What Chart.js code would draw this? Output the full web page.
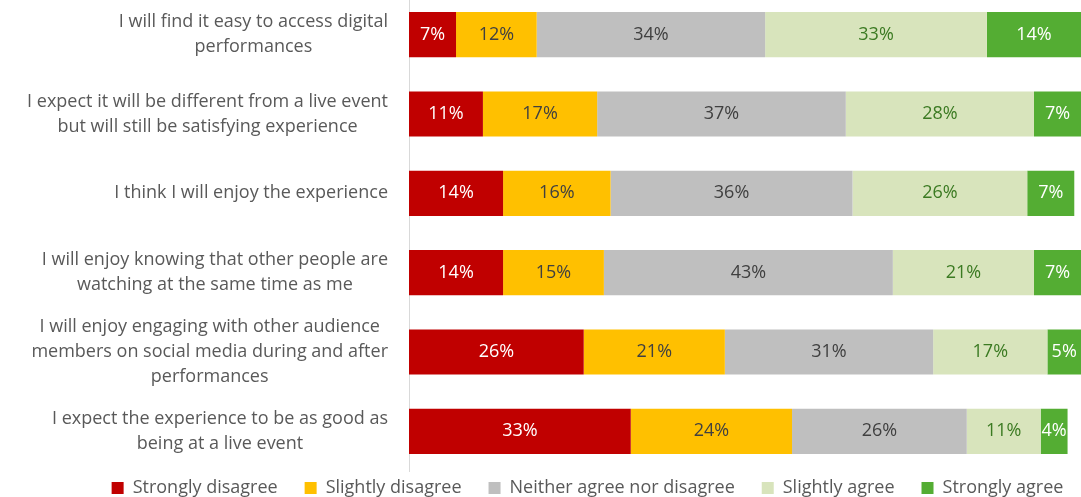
<!DOCTYPE html>
<html>
<head>
<meta charset="utf-8">
<script src="https://cdn.jsdelivr.net/npm/chart.js@4.4.1/dist/chart.umd.min.js"></script>
<style>
  html, body { margin: 0; padding: 0; background: #ffffff; overflow: hidden; }
  #wrap { width: 1081px; height: 497px; overflow: hidden; }
  /* plot area starts a few px above the visible frame */
  #surveyChart { display: block; margin-top: -5px; }
</style>
</head>
<body>
<div id="wrap"><canvas id="surveyChart" width="1081" height="502"></canvas></div>
<script>
// Survey statements (wrapped the same way as the axis labels)
const statements = [
    ['I will find it easy to access digital', 'performances'],
    ['I expect it will be different from a live event', 'but will still be satisfying experience'],
    ['I think I will enjoy the experience'],
    ['I will enjoy knowing that other people are', 'watching at the same time as me'],
    ['I will enjoy engaging with other audience', 'members on social media during and after', 'performances'],
    ['I expect the experience to be as good as', 'being at a live event']
];

const responseNames = ['Strongly disagree', 'Slightly disagree', 'Neither agree nor disagree', 'Slightly agree', 'Strongly agree'];

// Percent of respondents per answer
const stronglyDisagree = [7, 11, 14, 14, 26, 33];
const slightlyDisagree = [12, 17, 16, 15, 21, 24];
const neitherAgreeNor = [34, 37, 36, 43, 31, 26];
const slightlyAgree = [33, 28, 26, 21, 17, 11];
const stronglyAgree = [14, 7, 7, 7, 5, 4];

const seriesValues = [stronglyDisagree, slightlyDisagree, neitherAgreeNor, slightlyAgree, stronglyAgree];
const fillColors = ['#C00000', '#FFC000', '#BFBFBF', '#D8E4BC', '#54AD33'];
const valueTextColors = ['#FFFFFF', '#404040', '#404040', '#3B7A22', '#FFFFFF'];

const FONT = '"Open Sans", "Noto Sans", sans-serif';
const FONT_SIZE = 18;
const TEXT_GREY = '#595959';

// statement labels: each block is centred internally and right-aligned to the axis
const statementLabels = {
    id: 'statementLabels',
    afterDraw(chart) {
        const ctx = chart.ctx;
        const yScale = chart.scales.y;
        const right = chart.chartArea.left - 21;
        const lineH = 25;
        ctx.save();
        ctx.font = FONT_SIZE + 'px ' + FONT;
        ctx.fillStyle = TEXT_GREY;
        ctx.textAlign = 'center';
        ctx.textBaseline = 'middle';
        statements.forEach((lines, i) => {
            const y = yScale.getPixelForValue(i);
            const blockW = Math.max(...lines.map(l => ctx.measureText(l).width));
            const cx = right - blockW / 2;
            const y0 = y - (lines.length - 1) * lineH / 2;
            lines.forEach((line, k) => ctx.fillText(line, cx, y0 + k * lineH));
        });
        ctx.restore();
    }
};

// percentage text in the middle of every segment
const segmentValues = {
    id: 'segmentValues',
    afterDatasetsDraw(chart) {
        const ctx = chart.ctx;
        ctx.save();
        ctx.font = FONT_SIZE + 'px ' + FONT;
        ctx.textAlign = 'center';
        ctx.textBaseline = 'middle';
        chart.data.datasets.forEach((ds, di) => {
            const meta = chart.getDatasetMeta(di);
            ctx.fillStyle = valueTextColors[di];
            meta.data.forEach((bar, i) => {
                const x = (bar.x + bar.base) / 2;
                ctx.fillText(ds.data[i] + '%', x, bar.y);
            });
        });
        ctx.restore();
    }
};

// legend row along the bottom edge
const bottomLegend = {
    id: 'bottomLegend',
    afterDraw(chart) {
        const ctx = chart.ctx;
        const box = 12;
        const textGap = 9;
        const itemGap = 27;
        const y = chart.chartArea.bottom + 17;
        ctx.save();
        ctx.font = FONT_SIZE + 'px ' + FONT;
        ctx.textBaseline = 'middle';
        ctx.textAlign = 'left';
        const widths = responseNames.map(n => box + textGap + ctx.measureText(n).width);
        const total = widths.reduce((a, b) => a + b, 0) + itemGap * (widths.length - 1);
        let x = chart.width / 2 + 47 - total / 2;
        responseNames.forEach((name, i) => {
            ctx.fillStyle = fillColors[i];
            ctx.fillRect(x, y - box / 2, box, box);
            ctx.fillStyle = TEXT_GREY;
            ctx.fillText(name, x + box + textGap, y);
            x += widths[i] + itemGap;
        });
        ctx.restore();
    }
};

const ctx = document.getElementById('surveyChart').getContext('2d');
new Chart(ctx, {
    type: 'bar',
    data: {
        labels: statements,
        datasets: seriesValues.map((vals, i) => ({
            label: responseNames[i],
            data: vals,
            backgroundColor: fillColors[i],
            borderWidth: 0,
            categoryPercentage: 1,
            barPercentage: 0.57
        }))
    },
    options: {
        indexAxis: 'y',
        responsive: false,
        devicePixelRatio: 1,
        animation: false,
        layout: {
            padding: { top: 0, bottom: 26, left: 0, right: 0 }
        },
        scales: {
            x: {
                stacked: true,
                display: false,
                min: 0,
                max: 100
            },
            y: {
                stacked: true,
                grid: { display: false },
                border: { display: true, color: '#D9D9D9', width: 1 },
                ticks: { display: false },
                afterFit(scale) { scale.width = 409; }
            }
        },
        plugins: {
            legend: { display: false },
            tooltip: { enabled: false }
        }
    },
    plugins: [statementLabels, segmentValues, bottomLegend]
});
</script>
</body>
</html>
